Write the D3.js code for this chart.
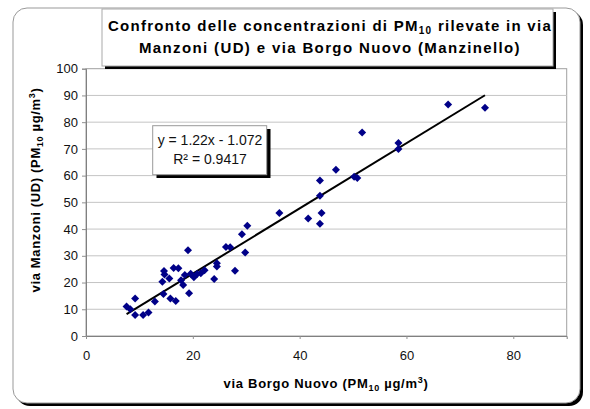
<!DOCTYPE html>
<html><head><meta charset="utf-8">
<script src="https://cdn.jsdelivr.net/npm/d3@7"></script>
<style>body{margin:0;background:#fff}svg{display:block;font-family:"Liberation Sans",Arial,sans-serif}</style>
</head><body>
<script>
const xVals = [67.8,74.7,51.7,58.5,58.5,46.8,50.2,50.8,43.8,43.8,36.2,41.6,44.1,43.8,30.2,29.2,29.8,26.2,27.0,27.9,19.1,24.5,24.5,24.0,22.2,21.5,20.8,20.2,19.6,18.5,17.8,18.2,19.3,16.4,17.3,14.6,14.7,15.6,14.3,14.5,15.8,16.8,12.9,9.2,7.6,8.3,9.2,10.7,11.7];
const yVals = [86.6,85.4,76.1,72.2,70.0,62.2,59.6,59.1,58.2,52.5,46.0,44.0,46.0,42.0,41.2,38.1,31.2,33.3,33.2,24.4,32.1,27.2,26.0,21.3,24.6,23.5,23.2,22.0,23.3,22.8,20.9,19.1,16.0,25.4,25.3,24.3,23.0,21.5,20.3,15.7,14.0,13.1,12.9,14.0,11.0,10.0,7.9,7.9,8.8];
const xTicks = [0,20,40,60,80];
const yTicks = [0,10,20,30,40,50,60,70,80,90,100];
const slope = 1.22, intercept = -1.072;
const eqLabel = "y = 1.22x - 1.072";
const r2Label = "R² = 0.9417";

const W = 590, H = 409;
const svg = d3.select("body").append("svg").attr("width", W).attr("height", H);

function fitWidth(sel, target) {
  const node = sel.node();
  const n = node.textContent.length;
  const w = node.getComputedTextLength();
  sel.attr("letter-spacing", ((target - w) / n).toFixed(3));
}

// outer frame with shadow
svg.append("rect").attr("x",16).attr("y",11).attr("width",567).attr("height",395).attr("rx",14).attr("fill","#000");
svg.append("rect").attr("x",13).attr("y",8).attr("width",567).attr("height",395).attr("rx",14).attr("fill","#fff").attr("stroke","#999").attr("stroke-width",1);

const x = d3.scaleLinear().domain([0,90]).range([86,566.7]);
const y = d3.scaleLinear().domain([0,100]).range([336,68.7]);

// plot area
svg.append("rect").attr("x",x(0)).attr("y",y(100)).attr("width",x(90)-x(0)).attr("height",y(0)-y(100)).attr("fill","#fff").attr("stroke","#a0a0a0");

// gridlines
svg.append("g").selectAll("line").data(yTicks.filter(d=>d>0&&d<100)).join("line")
  .attr("x1",x(0)).attr("x2",x(90)).attr("y1",d=>y(d)).attr("y2",d=>y(d))
  .attr("stroke","#c4c4c4").attr("stroke-width",1);

// axes
const yAxis = svg.append("g").attr("transform",`translate(${x(0)},0)`)
  .call(d3.axisLeft(y).tickValues(yTicks).tickSize(4).tickPadding(4));
const xAxis = svg.append("g").attr("transform",`translate(0,${y(0)})`)
  .call(d3.axisBottom(x).tickValues(xTicks).tickSize(3).tickPadding(12));
[yAxis,xAxis].forEach(a=>{
  a.select(".domain").attr("stroke","#808080");
  a.selectAll(".tick line").attr("stroke","#909090");
  a.selectAll("text").attr("font-size",13).attr("fill","#111").attr("font-family","Liberation Sans, Arial, sans-serif");
});

// trendline
const xmin = d3.min(xVals), xmax = d3.max(xVals);
svg.append("line").attr("x1",x(xmin)).attr("y1",y(slope*xmin+intercept))
  .attr("x2",x(xmax)).attr("y2",y(slope*xmax+intercept))
  .attr("stroke","#000").attr("stroke-width",2);

// points
svg.append("g").selectAll("path").data(xVals.map((v,i)=>[v,yVals[i]])).join("path")
  .attr("d","M0,-4L4,0L0,4L-4,0Z")
  .attr("transform",d=>`translate(${x(d[0])},${y(d[1])})`)
  .attr("fill","#000088");

// equation box
svg.append("rect").attr("x",156.5).attr("y",129).attr("width",114).attr("height",49).attr("fill","#000");
svg.append("rect").attr("x",152.7).attr("y",125.7).attr("width",114).attr("height",49).attr("fill","#fff").attr("stroke","#999");
svg.append("text").attr("x",210).attr("y",145).attr("text-anchor","middle").attr("font-size",14).attr("fill","#111").text(eqLabel);
svg.append("text").attr("x",210).attr("y",164).attr("text-anchor","middle").attr("font-size",14).attr("fill","#111").text(r2Label);

// title box
svg.append("rect").attr("x",105).attr("y",12).attr("width",451).attr("height",57).attr("fill","#000");
svg.append("rect").attr("x",102).attr("y",9).attr("width",451).attr("height",57).attr("fill","#fff").attr("stroke","#aaa");
const t1 = svg.append("text").attr("x",330).attr("y",31).attr("text-anchor","middle").attr("font-size",15).attr("font-weight","bold").attr("fill","#000");
t1.append("tspan").text("Confronto delle concentrazioni di PM");
t1.append("tspan").attr("font-size",10).attr("dy",3).text("10");
t1.append("tspan").attr("dy",-3).text(" rilevate in via");
fitWidth(t1, 444);
const t2 = svg.append("text").attr("x",330).attr("y",53).attr("text-anchor","middle").attr("font-size",15).attr("font-weight","bold").attr("fill","#000")
  .text("Manzoni (UD) e via Borgo Nuovo (Manzinello)");
fitWidth(t2, 382);

// x axis title
const xt = svg.append("text").attr("x",326).attr("y",388).attr("text-anchor","middle").attr("font-size",13).attr("font-weight","bold").attr("fill","#000");
xt.append("tspan").text("via Borgo Nuovo (PM");
xt.append("tspan").attr("font-size",9).attr("dy",3).text("10");
xt.append("tspan").attr("dy",-3).text(" µg/m");
xt.append("tspan").attr("font-size",9).attr("dy",-5).text("3");
xt.append("tspan").attr("dy",5).text(")");
fitWidth(xt, 205);

// y axis title
const yt = svg.append("text").attr("transform","translate(40,190) rotate(-90)").attr("text-anchor","middle").attr("font-size",13).attr("font-weight","bold").attr("fill","#000");
yt.append("tspan").text("via Manzoni (UD) (PM");
yt.append("tspan").attr("font-size",9).attr("dy",3).text("10");
yt.append("tspan").attr("dy",-3).text(" µg/m");
yt.append("tspan").attr("font-size",9).attr("dy",-5).text("3");
yt.append("tspan").attr("dy",5).text(")");
fitWidth(yt, 205);
</script>
</body></html>
